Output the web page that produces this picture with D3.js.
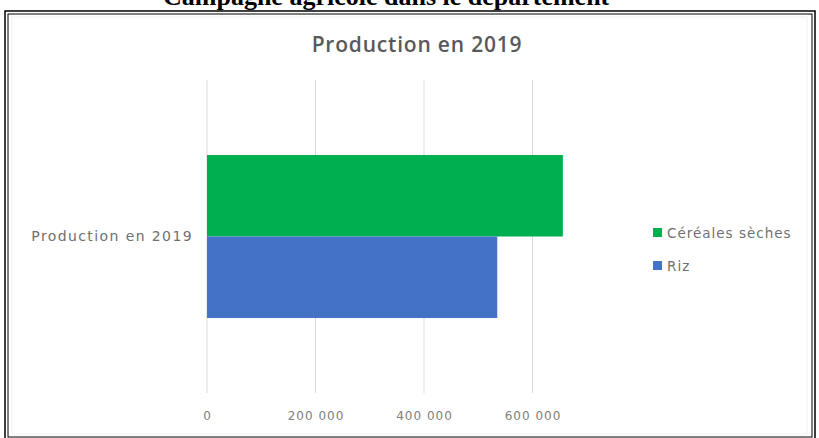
<!DOCTYPE html>
<html><head><meta charset="utf-8">
<script src="https://cdn.jsdelivr.net/npm/d3@7"></script>
<style>body{margin:0;background:#fff}svg{display:block}</style>
</head><body>
<script>
const categories = ["Production en 2019"];
const seriesNames = ["Céréales sèches", "Riz"];
const seriesValues = [656000, 535000];
const seriesColors = ["#00B050", "#4472C4"];
const tickValues = [0, 200000, 400000, 600000];
const chartTitle = "Production en 2019";
const pageHeading = "Campagne agricole dans le département";

const W = 819, H = 438;
const svg = d3.select("body").append("svg").attr("width", W).attr("height", H);
svg.append("rect").attr("width", W).attr("height", H).attr("fill", "#fff");

// cropped document heading
svg.append("text").attr("x", 163).attr("y", 5)
  .attr("font-family", "Liberation Serif").attr("font-weight", "bold").attr("font-size", 26)
  .attr("fill", "#000").text(pageHeading);

// double frame
svg.append("rect").attr("x", 5).attr("y", 11).attr("width", W - 9).attr("height", H - 9)
  .attr("fill", "#fff").attr("stroke", "#000").attr("stroke-width", 1.5);
svg.append("rect").attr("x", 8).attr("y", 14).attr("width", W - 15).attr("height", H - 15)
  .attr("fill", "none").attr("stroke", "#000").attr("stroke-width", 1);
svg.append("rect").attr("x", 12).attr("y", 17).attr("width", W - 24).attr("height", H - 21)
  .attr("fill", "#fff").attr("stroke", "#f0f0f0").attr("stroke-width", 1);

const plot = {left: 207, top: 80, bottom: 393};
const x = d3.scaleLinear().domain([0, 800000]).range([plot.left, plot.left + 4 * 108.5]);
const y0 = d3.scaleBand().domain(categories).range([plot.top, plot.bottom]).paddingInner(0).paddingOuter(0.46);
const y1 = d3.scaleBand().domain(seriesNames).range([0, y0.bandwidth()]);

// gridlines
svg.append("g").selectAll("line").data(tickValues).join("line")
  .attr("x1", d => x(d)).attr("x2", d => x(d))
  .attr("y1", plot.top).attr("y2", plot.bottom)
  .attr("stroke", "#d9d9d9").attr("stroke-width", 1);

// bars
categories.forEach(cat => {
  svg.append("g").selectAll("rect").data(seriesNames).join("rect")
    .attr("x", x(0))
    .attr("y", s => y0(cat) + y1(s))
    .attr("width", (s, i) => x(seriesValues[i]) - x(0))
    .attr("height", y1.bandwidth())
    .attr("fill", (s, i) => seriesColors[i]);
});

// x axis labels
const fmt = v => d3.format(",")(v).replace(/,/g, " ");
const xAxis = d3.axisBottom(x).tickValues(tickValues).tickSize(0).tickFormat(fmt);
const gx = svg.append("g").attr("transform", `translate(0,${plot.bottom + 15})`).call(xAxis);
gx.select(".domain").remove();
gx.selectAll("text").attr("font-family", "DejaVu Sans").attr("font-size", 12)
  .attr("letter-spacing", 1).attr("fill", "#808080");

// y axis label
const yAxis = d3.axisLeft(y0).tickSize(0).tickPadding(14);
const gy = svg.append("g").attr("transform", `translate(${plot.left},0)`).call(yAxis);
gy.select(".domain").remove();
gy.selectAll("text").attr("font-family", "DejaVu Sans").attr("font-size", 14)
  .attr("letter-spacing", 1.4).attr("fill", "#707070");

// chart title
svg.append("text").attr("x", 417).attr("y", 52).attr("text-anchor", "middle")
  .attr("font-family", "Open Sans").attr("font-weight", 600).attr("font-size", 21)
  .attr("letter-spacing", 0.8).attr("fill", "#595959").text(chartTitle);

// legend
const lg = svg.append("g").selectAll("g").data(seriesNames).join("g")
  .attr("transform", (d, i) => `translate(653,${233 + i * 33})`);
lg.append("rect").attr("x", 0).attr("y", -5).attr("width", 9).attr("height", 9)
  .attr("fill", (d, i) => seriesColors[i]);
lg.append("text").attr("x", 14).attr("y", 0).attr("dy", "0.35em")
  .attr("font-family", "DejaVu Sans").attr("font-size", 13.5)
  .attr("letter-spacing", 1).attr("fill", "#707070").text(d => d);
</script>
</body></html>
